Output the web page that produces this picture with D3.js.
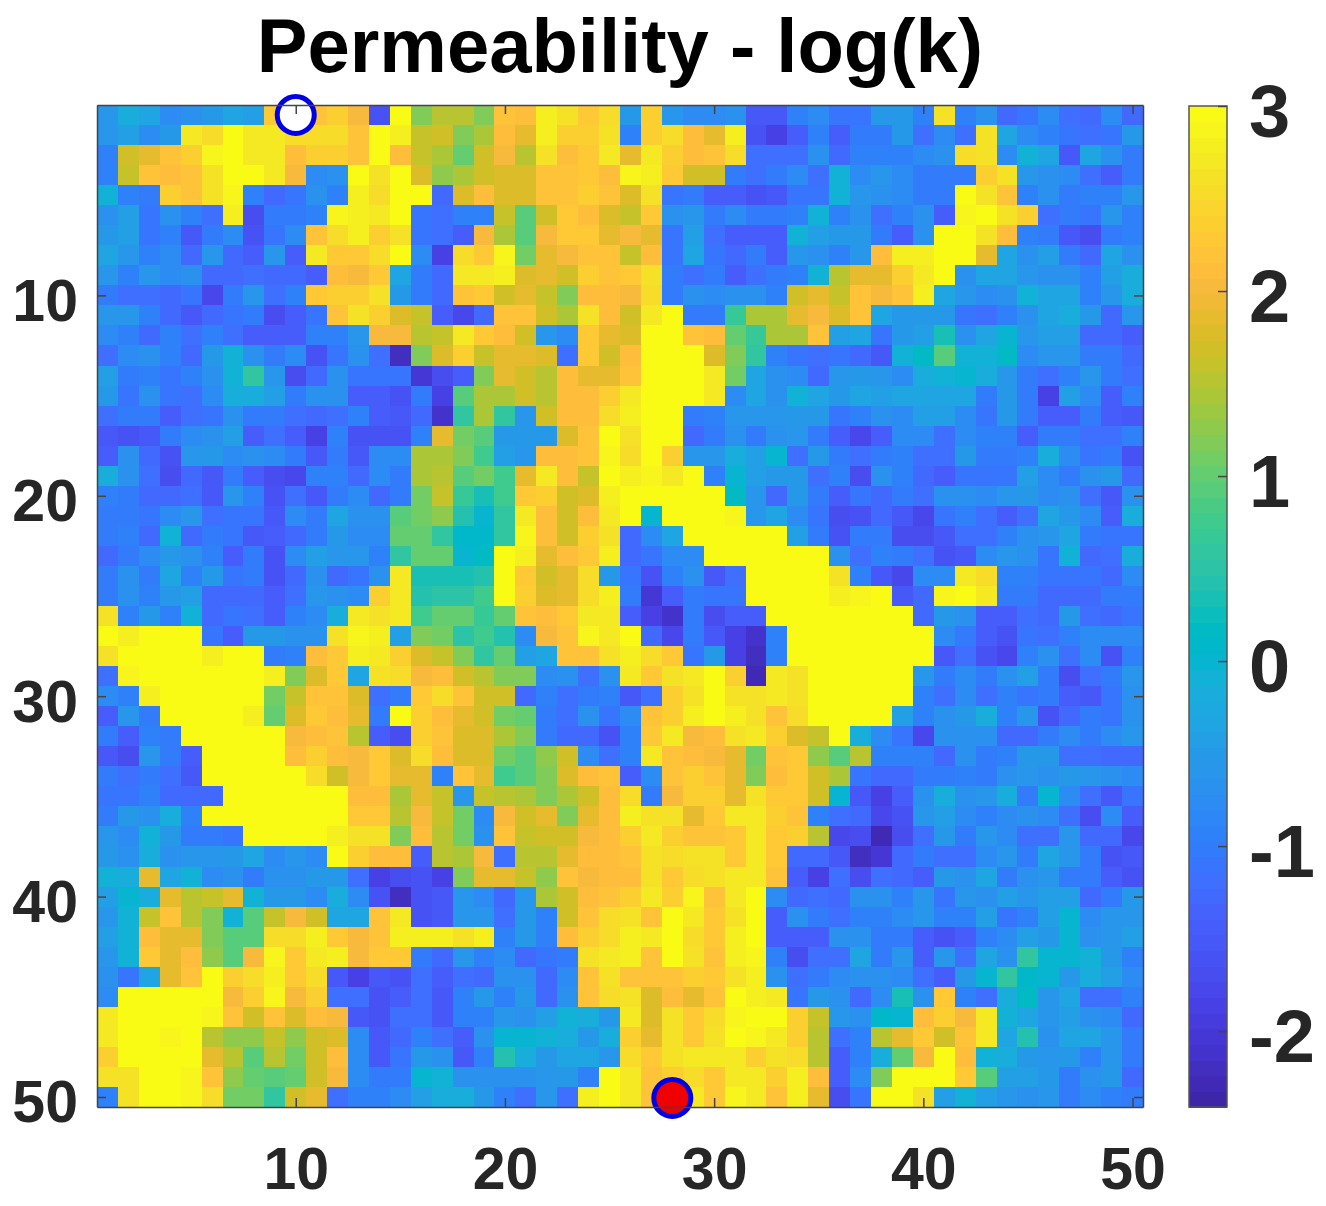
<!DOCTYPE html>
<html>
<head>
<meta charset="utf-8">
<script src="https://cdn.jsdelivr.net/npm/d3@7"></script>
<style>
  html, body { margin: 0; padding: 0; background: #fff; }
  svg { display: block; }
  text { font-family: "Liberation Sans", Arial, sans-serif; font-weight: bold; }
</style>
</head>
<body>
<svg id="chart" width="1326" height="1206"></svg>
<script>
// log(k) per cell, one array per row
const logK = [
[-0.6,-0.2,-0.3,-0.8,-0.7,-0.5,-0.3,-0.4,2.3,2.4,2.2,2.4,2.0,-1.6,3,1.2,1.5,1.5,1.2,2.2,2.1,2.8,2.6,2.3,2.5, -0.5,2.4,-0.6,-0.8,-0.8,-0.7,-1.5,-1.5,-0.9,-0.8,-1.1,-1.1,-0.5,-0.5,-0.9,2.6,-0.9,-0.7,-1.3,-1.1,-0.8,-1.2,-1.3,-0.8,-1.3],
[-0.6,-0.4,-0.8,-0.5,2.7,2.5,3,2.7,2.7,2.5,2.5,2.5,2.2,3,2.8,1.6,1.7,1.2,1.4,2.1,1.9,2.8,2.4,2.4,2.6, -0.9,2.4,2.5,2.1,1.9,2.8,-1.6,-1.9,-1.4,-0.9,-1.4,-1.0,-1.0,-0.5,-1.2,-0.8,-1.2,2.6,-0.3,-0.8,-0.9,-1.1,-1.2,-1.1,-0.5],
[-0.9,1.7,1.9,2.2,2.4,2.9,3,2.7,2.7,2.1,2.4,2.4,2.2,3,2.1,1.6,1.4,1.0,1.7,2.0,1.5,2.6,2.1,2.3,2.7, 1.9,2.7,2.4,2.1,2.2,2.5,-1.2,-1.2,-1.2,-0.7,-1.3,-0.9,-0.9,-0.9,-0.8,-0.7,2.5,2.6,-0.8,-0.1,-0.3,-1.5,-0.3,-0.7,-1.0],
[-0.9,1.6,2.2,2.1,2.2,2.6,3,3,2.7,2.0,-0.8,-0.7,3,2.6,3,1.8,1.3,1.4,1.7,1.8,1.8,2.2,2.2,2.3,2.1, 2.9,2.8,2.3,1.7,1.7,-1.0,-1.2,-1.0,-0.8,-1.2,-0.1,-0.8,-0.6,-0.8,-1.0,-1.0,-1.0,2.4,2.6,-0.6,-0.7,-0.8,-1.2,-1.4,-1.0],
[-0.1,-0.9,-1.0,2.4,2.2,2.6,2.9,-0.9,-1.3,-1.1,-0.7,-0.9,2.8,2.5,3,3,-1.3,1.8,2.1,1.8,1.8,2.2,2.2,2.4,2.2, 1.8,2.6,-1.1,-1.0,-1.4,-1.4,-1.6,-1.5,-1.1,-1.1,-0.1,-0.6,-0.7,-0.8,-1.0,-1.0,3,2.6,2.2,-0.9,-0.7,-1.0,-0.9,-0.9,-0.6],
[-0.7,-0.4,-1.1,-0.7,-0.9,-1.2,2.8,-1.7,-1.0,-1.0,-0.9,2.9,2.8,2.7,3,-1.1,-1.2,-0.9,-0.9,1.6,0.9,1.7,2.3,2.1,1.8, 1.6,2.3,-0.7,-0.6,-1.0,-0.8,-1.0,-1.0,-0.9,-0.1,-0.9,-0.7,-1.2,-0.9,-0.7,-1.4,2.9,3,2.6,2.4,-1.2,-1.0,-1.1,-0.6,-0.9],
[-0.5,-0.4,-1.1,-0.9,-1.5,-1.0,-0.8,-1.6,-1.1,-0.8,2.2,2.5,2.8,2.4,2.6,-1.1,-1.2,-1.4,2.0,1.4,0.9,2.0,2.3,2.3,1.9, 2.0,1.9,-1.1,-0.4,-1.2,-1.4,-1.4,-1.4,-0.1,-0.4,-0.5,-0.5,-1.0,-1.4,-0.7,3,3,2.6,2.1,-0.9,-1.0,-1.5,-1.7,-1.0,-0.9],
[-0.3,-0.6,-0.9,-0.8,-1.3,-0.6,-1.3,-1.4,-0.6,-1.4,2.7,2.3,2.3,2.5,3,-0.8,-1.9,2.5,2.3,2.9,1.1,1.9,2.0,2.2,2.2, 1.6,2.1,-1.1,-0.3,-1.1,-1.3,-1.0,-1.4,-0.6,-0.7,-0.9,-0.6,2.1,2.8,2.8,3,3,1.9,-0.3,-0.7,-0.4,-1.0,-1.3,-0.3,-0.7],
[-0.6,-0.9,-0.6,-0.8,-0.7,-1.3,-1.3,-1.2,-1.3,-1.3,-1.4,2.1,2.0,2.3,-0.3,-1.0,-1.3,2.7,2.7,2.8,1.8,1.9,1.7,2.4,2.2, 2.3,2.6,-1.0,-1.2,-1.0,-1.4,-1.2,-1.0,-0.9,-0.1,1.5,1.9,1.9,2.4,2.7,3,-0.7,-0.3,-0.3,-0.6,-0.7,-0.7,-0.9,-0.4,-0.2],
[-1.0,-1.2,-1.2,-1.3,-1.1,-1.8,-1.0,-0.6,-1.2,-0.9,2.3,2.4,2.4,2.6,-0.5,-1.0,-1.3,2.2,2.3,1.7,1.9,1.6,1.2,2.1,2.1, 2.0,2.5,-1.0,-0.7,-0.8,-0.7,-0.7,-0.9,1.7,1.9,1.6,2.2,2.0,2.2,2.8,-0.3,-0.6,-0.8,-0.7,-0.1,-0.3,-0.3,-0.9,-0.6,-0.2],
[-0.6,-0.6,-0.9,-1.3,-1.5,-1.3,-1.1,-1.0,-1.7,-1.4,-1.1,2.2,2.6,2.4,1.8,1.6,-1.4,-1.8,-1.3,2.2,2.2,1.7,1.4,2.6,2.1, 1.7,2.7,3,-1.0,-1.0,0.7,1.4,1.4,1.9,2.0,1.8,2.2,-0.3,-0.5,-0.5,-0.5,-1.1,-1.2,-0.9,-0.7,-0.3,-0.2,-0.5,-1.3,-0.6],
[-0.8,-0.9,-1.3,-0.9,-1.2,-0.9,-1.2,-1.4,-1.4,-1.4,-0.9,-0.9,-0.6,2.0,2.0,1.5,1.6,2.7,2.3,2.1,1.7,-0.6,-0.8,2.3,1.9, 1.8,3,3,2.2,2.1,1.0,0.7,1.4,1.4,2.2,-0.4,-0.3,-1.1,-0.5,-0.4,0.3,-0.7,-0.3,0.0,-0.6,-0.4,-0.4,-1.3,-1.3,-1.4],
[-1.2,-0.8,-0.7,-0.9,-1.3,-0.5,-0.1,-0.7,-1.0,-0.8,-1.6,-1.1,-0.7,-1.2,-2.2,1.2,1.8,2.4,1.6,1.9,1.9,1.8,-1.2,2.3,1.7, 2.1,3,3,3,1.8,1.2,0.6,-0.9,-1.1,-1.2,-1.1,-1.3,-1.5,-0.1,0.2,0.9,-0.1,-0.1,0.2,-0.8,-0.6,-0.6,-1.0,-1.0,-1.3],
[-0.4,-1.0,-0.9,-1.1,-0.9,-0.7,-0.1,0.6,-0.6,-1.7,-1.3,-0.7,-1.1,-1.1,-1.1,-2.0,-1.7,-1.4,1.2,1.9,1.7,1.5,2.1,1.9,1.9, 2.2,3,3,3,2.7,1.1,-0.3,-0.7,-0.8,-1.3,-0.6,-0.5,-0.6,-0.8,-0.2,-0.1,0.0,-0.2,-0.6,-1.0,-1.2,-0.9,-0.6,-1.0,-1.2],
[-0.5,-1.1,-0.7,-1.1,-1.2,-0.8,-0.2,-0.2,-0.4,-1.0,-0.7,-0.7,-1.4,-1.4,-1.6,-1.0,-1.9,0.9,1.4,1.4,1.7,1.5,2.1,2.1,2.4, 2.7,3,3,3,2.7,-0.8,-0.3,-0.7,-0.1,-0.3,-0.5,-0.3,-0.4,-0.3,-0.3,-0.3,-0.3,-1.0,-0.5,-1.0,-1.9,-0.4,-0.8,-1.4,-0.9],
[-1.2,-1.0,-1.0,-1.4,-1.2,-1.1,-0.7,-1.0,-1.0,-1.2,-1.3,-1.2,-0.9,-1.4,-1.5,-1.3,-2.1,0.6,1.4,0.6,-0.6,1.7,2.1,2.1,2.5, 2.8,3,3,-1.0,-0.9,-0.6,-0.6,-0.6,-0.5,-0.5,-1.1,-0.9,-0.7,-0.8,-0.4,-0.4,-0.8,-1.1,-0.5,-1.0,-1.4,-1.4,-1.0,-1.4,-1.5],
[-1.5,-1.6,-1.5,-1.0,-0.8,-0.7,-0.4,-1.4,-1.2,-1.4,-1.9,-0.9,-1.6,-1.6,-1.6,-0.9,1.9,1.1,0.9,-0.5,-0.5,-0.5,1.8,2.2,3, 2.6,3,3,-1.3,-1.0,-0.7,-1.0,-0.7,-0.6,-1.0,-1.4,-1.8,-1.4,-0.8,-0.8,-1.2,-0.8,-0.9,-0.9,-1.4,-1.0,-1.0,-1.2,-1.2,-0.9],
[-1.4,-0.7,-1.3,-1.6,-0.6,-0.5,-0.8,-0.7,-0.8,-1.0,-1.5,-1.0,-1.5,-0.8,-0.8,1.4,1.4,1.2,0.8,-0.4,-0.6,2.1,2.1,2.2,2.9, 2.5,3,2.4,-0.6,-0.6,-0.2,-0.4,0.0,-1.2,-0.5,-1.0,-1.2,-1.0,-0.9,-1.2,-1.2,-0.5,-1.0,-1.0,-0.9,-0.2,-0.8,-1.1,-1.0,-1.6],
[-0.2,-0.7,-1.2,-1.7,-1.3,-1.5,-1.0,-1.4,-1.7,-1.8,-0.9,-0.9,-1.3,-0.8,-1.0,1.4,1.5,0.9,1.1,0.8,1.9,2.7,2.1,1.6,3, 2.8,2.9,2.7,3,-0.9,0.0,-0.4,-0.5,-0.5,-1.2,-0.9,-1.7,-0.7,-0.9,-1.3,-1.4,-1.1,-1.1,-1.1,-0.4,-0.8,-1.0,-0.7,-0.5,-1.3],
[-0.9,-1.0,-1.3,-1.3,-1.2,-1.5,-0.6,-0.9,-1.6,-1.2,-1.5,-1.0,-0.8,-1.3,-1.0,1.1,1.6,0.7,0.3,0.8,2.3,2.4,1.7,1.8,2.8, 3,3,3,3,3,0.2,-0.6,-1.3,-0.5,-1.0,-1.4,-1.1,-1.3,-1.0,-1.2,-0.7,-0.7,-0.8,-0.6,-0.5,-0.8,-0.7,-1.2,-1.5,-0.7],
[-1.0,-1.0,-1.1,-0.8,-0.6,-1.2,-1.1,-1.1,-1.5,-0.8,-1.0,-0.3,-0.7,-0.7,0.9,1.1,1.3,0.4,0.0,0.6,2.7,2.1,1.7,2.1,2.7, 3,0.0,3,3,3,2.9,-0.6,-0.3,-0.8,-1.1,-1.7,-1.6,-1.3,-1.5,-1.8,-1.1,-0.9,-1.2,-1.4,-1.2,-0.3,-0.5,-0.8,-1.4,-0.2],
[-1.0,-0.9,-1.3,-0.1,-1.3,-1.0,-1.1,-1.5,-1.4,-1.3,-1.0,-0.5,-0.8,-0.8,1.0,1.0,0.6,0.1,0.1,0.6,2.9,2.1,1.7,2.4,2.6, -1.3,-0.8,-0.3,3,3,3,3,3,-0.4,-1.0,-1.6,-1.0,-1.0,-1.7,-1.7,-1.5,-1.2,-1.2,-0.9,-0.7,-0.6,-0.3,-1.0,-1.1,-1.1],
[-1.3,-1.0,-0.8,-0.5,-0.7,-0.9,-1.4,-1.0,-1.6,-0.8,-0.4,-0.6,-0.6,-0.9,0.6,1.0,1.0,0.0,0.2,3,2.8,1.9,2.1,2.3,2.8, -1.3,-1.1,-0.8,-0.8,3,3,3,3,3,3,-0.7,-1.2,-0.9,-1.0,-1.2,-1.6,-1.5,-0.8,-0.6,-0.7,-1.1,-0.1,-1.3,-1.2,-0.2],
[-1.0,-0.7,-1.0,-0.3,-0.9,-0.5,-1.1,-1.0,-1.6,-1.3,-0.7,-1.3,-1.1,-0.7,2.7,0.3,0.3,0.3,0.4,3,2.3,1.7,1.9,2.5,-0.5, -1.1,-1.6,-0.9,-0.7,-1.5,-1.2,3,3,3,3,2.6,-0.9,-1.5,-1.8,-0.8,-0.8,2.7,2.5,-0.9,-0.9,-1.1,-1.1,-1.1,-1.3,-0.8],
[-1.0,-0.7,-0.9,-0.5,-0.4,-1.3,-1.3,-1.3,-1.4,-1.2,-0.6,-0.7,-0.8,2.4,2.7,0.4,0.5,0.5,0.8,3,2.4,1.8,1.9,2.5,2.8, -1.0,-2.0,-1.4,-1.0,-1.1,-1.1,3,3,3,3,2.8,2.9,3,-1.5,-1.3,2.9,3,2.7,-1.0,-1.0,-1.3,-1.3,-1.3,-1.0,-1.0],
[2.6,-0.9,-0.5,-0.9,-0.1,-1.3,-1.1,-1.2,-1.4,-0.9,-0.8,-0.2,2.7,2.6,2.7,0.8,1.0,1.0,0.7,1.0,2.2,2.1,2.3,2.7,2.7, -1.4,-1.9,-2.1,-1.0,-1.7,-1.4,-1.4,3,3,3,3,3,3,3,-1.3,-0.5,-0.7,-1.4,-1.4,-1.2,-1.3,-0.5,-1.2,-1.3,-1.1],
[3,2.8,3,3,3,-1.1,-1.4,-0.5,-0.5,-0.7,-0.7,2.6,2.9,2.8,-0.4,1.2,1.1,0.5,0.8,0.4,-0.8,2.0,2.2,2.9,2.7, 3,-1.3,-1.8,-1.0,-1.5,-1.9,-2.1,-0.9,3,3,3,3,3,3,3,-0.8,-1.0,-1.4,-1.6,-1.1,-1.2,-0.9,-0.8,-0.8,-0.8],
[2.6,3,3,3,3,2.8,3,3,-1.0,-0.9,2.1,2.3,2.8,2.7,2.4,1.8,1.6,1.2,0.6,1.0,-0.4,-0.3,2.2,2.2,2.6, 2.8,2.5,2.3,-1.1,-0.5,-1.9,-2.2,-0.9,3,3,3,3,3,3,3,-1.5,-1.2,-1.6,-1.8,-0.9,-0.7,-1.2,-0.8,-1.6,-0.9],
[-1.2,2.9,3,3,3,3,3,3,2.8,1.2,1.8,2.3,-0.3,2.6,2.5,2.0,2.1,1.7,1.5,1.2,1.2,-0.8,-0.7,-1.2,-0.7, 2.7,2.3,2.6,2.7,3,2.4,-2.3,2.7,2.6,3,3,3,3,3,-0.6,-1.0,-0.8,-1.0,-0.7,-0.4,-1.0,-1.7,-1.2,-1.0,-0.6],
[-0.8,-0.9,2.8,3,3,3,3,3,1.1,1.6,2.2,2.2,1.8,-1.2,-1.0,2.3,2.5,2.2,1.7,1.7,-1.3,-0.9,-1.2,-1.0,-0.9, -1.5,-1.2,2.4,2.6,3,2.6,2.6,2.7,2.6,3,3,3,3,3,-0.9,-1.2,-0.8,-1.2,-0.9,-1.1,-1.0,-1.4,-1.5,-1.1,-0.7],
[-1.4,-0.6,-1.0,3,3,3,3,2.8,1.0,1.8,2.3,2.1,1.9,-1.0,3,2.4,2.1,1.9,1.7,1.1,1.0,-1.0,-1.2,-0.7,-1.1, -0.8,2.2,2.4,2.8,3,2.8,2.6,2.2,2.5,3,3,3,3,-0.4,-0.9,-0.7,-0.5,-0.2,-0.9,-0.6,-1.6,-1.3,-1.0,-1.1,-0.7],
[-1.0,-1.4,-0.9,-1.0,3,3,3,3,3,2.0,2.1,2.2,1.5,-1.4,-1.7,2.4,2.2,1.8,1.8,1.4,1.2,-1.0,-1.3,-1.3,-1.6, -0.9,2.3,2.7,2.0,2.1,2.6,2.7,2.4,1.8,1.6,3,-0.2,-0.8,-1.1,-1.8,-0.7,-0.7,-0.7,-1.3,-1.3,-1.0,-0.8,-1.0,-0.8,-0.6],
[-1.5,-1.7,-0.6,-1.0,-1.4,3,3,3,3,2.1,2.4,2.1,2.0,2.3,1.8,2.5,2.1,1.8,1.8,1.1,0.9,1.3,1.7,-0.8,-1.2, -0.9,2.7,2.2,2.1,2.0,1.9,1.1,2.2,2.3,1.3,0.9,1.5,-0.9,-0.9,-0.9,-1.3,-0.7,-1.0,-0.9,-0.5,-0.5,-1.2,-1.2,-1.3,-1.3],
[-1.0,-1.2,-1.0,-1.2,-1.5,3,3,3,3,3,2.5,1.7,2.0,2.3,1.9,1.9,-0.9,2.2,1.9,0.8,0.9,1.2,1.8,2.1,2.2, -1.4,-0.8,2.2,2.4,2.2,1.9,1.2,2.1,2.3,1.7,1.4,-1.1,-1.3,-1.3,-1.0,-1.0,-0.9,-1.0,-0.7,-0.6,-0.7,-0.5,-0.6,-0.7,-0.8],
[-1.1,-1.1,-0.9,-1.3,-1.3,-1.3,3,3,3,3,3,3,2.1,2.1,1.4,1.9,1.6,-0.6,1.6,1.5,1.4,1.2,1.4,1.7,2.1, 2.5,-1.0,2.0,2.4,2.4,1.9,2.6,2.3,2.3,1.7,0.0,-1.5,-1.9,-1.4,-0.7,-0.2,-0.7,-0.6,-0.2,-1.0,0.0,-0.8,-1.2,-1.5,-1.1],
[-1.0,-0.5,-0.7,-0.2,-0.9,3,3,3,3,3,3,3,2.3,2.3,1.5,2.0,1.6,1.1,-0.8,2.0,1.7,1.9,1.2,1.9,2.1, 2.8,2.6,2.6,1.9,2.3,2.7,2.7,2.4,2.2,-0.9,-1.2,-1.3,-1.8,-1.6,-0.6,-0.4,-0.8,-0.9,-0.8,-0.7,-0.8,-1.2,-1.7,-0.8,-1.4],
[-0.6,-0.8,-0.1,-0.5,-1.0,-1.0,-1.1,3,3,3,3,2.8,2.6,2.6,1.2,2.1,1.5,1.1,-0.7,2.2,1.6,1.7,1.7,2.0,2.1, 2.4,2.7,2.4,2.2,2.2,2.3,2.7,2.3,2.4,1.5,-1.8,-1.7,-2.3,-1.7,-1.2,-0.5,-1.0,-0.6,-0.8,-1.2,-1.2,-0.6,-1.3,-1.3,-1.8],
[-0.5,-0.7,-0.2,-0.7,-0.6,-0.6,-0.5,-0.3,-0.8,-0.6,-0.8,3,2.4,2.1,2.1,-1.4,1.5,1.4,2.0,-1.2,1.5,1.5,1.9,2.1,2.1, 2.2,2.6,2.5,2.6,2.6,2.3,2.7,2.3,-1.3,-1.3,-1.5,-2.2,-2.0,-1.3,-1.0,-1.2,-1.2,-0.8,-0.6,-1.0,-0.3,-0.6,-1.0,-1.6,-1.5],
[-0.1,-0.2,1.9,-0.3,-0.1,-0.8,-0.7,-1.0,-0.7,-0.7,-0.5,-0.5,-1.2,-1.9,-1.7,-1.6,-1.9,1.2,1.9,1.9,1.6,1.3,2.2,2.0,2.1, 2.1,2.6,2.3,2.5,2.6,2.7,2.7,2.2,-1.4,-1.9,-1.2,-1.7,-1.2,-1.3,-1.4,-0.5,-0.7,-0.3,-1.0,-0.7,-0.6,-1.0,-1.0,-1.4,-1.6],
[-0.4,0.0,-0.2,1.9,1.5,1.6,1.9,-0.1,-0.5,-0.5,-0.8,-0.2,-0.8,-1.6,-2.2,-1.6,-1.5,-0.6,-0.8,-1.3,-0.6,1.4,1.7,2.1,2.2, 2.4,2.7,2.4,2.9,2.2,2.7,3,-0.8,-1.3,-1.2,-1.3,-0.7,-0.7,-0.9,-0.6,-1.1,-0.6,-0.7,-0.4,-0.6,-0.4,-0.4,-1.3,-1.0,-0.5],
[-0.6,-0.1,1.6,2.2,1.5,1.2,-0.1,0.9,1.6,2.0,1.7,-0.3,-0.3,2.2,2.7,-1.6,-1.5,-0.6,-0.6,-1.2,-0.5,-0.9,1.7,2.2,2.5, 2.6,2.2,3,2.7,2.3,2.6,3,-1.4,-0.7,-1.0,-1.2,-0.9,-0.9,-0.8,-0.6,-0.9,-0.9,-0.4,-1.1,-0.9,-0.4,0.0,-0.8,-0.6,-0.6],
[-0.4,-0.1,2.1,1.9,1.9,1.2,0.9,0.9,2.5,2.5,2.8,2.3,2.0,2.2,2.8,2.8,2.8,2.6,2.8,-0.9,-0.5,-0.9,2.1,2.4,2.5, 2.8,2.7,3,2.5,2.3,2.8,3,-1.4,-1.4,-1.4,-0.7,-0.7,-1.0,-1.0,-1.4,-1.6,-1.4,-0.9,-0.8,-0.4,-0.5,0.0,-0.7,-0.6,-0.4],
[-0.6,-0.1,2.3,1.9,2.1,1.3,0.9,2.0,2.9,2.3,2.7,2.8,2.0,2.3,2.3,-1.0,-1.3,-0.6,-0.9,-0.8,-1.3,-1.1,-1.0,2.6,2.7, 2.8,2.2,3,2.6,2.2,2.8,2.9,-0.9,-1.7,-1.2,-1.2,-0.3,-1.0,-0.6,-1.4,-0.6,-1.2,-0.3,-0.7,0.6,0.0,0.0,-0.1,-0.5,-0.9],
[-0.7,-1.1,-0.3,1.9,2.2,3,2.4,2.5,2.8,2.3,2.5,-1.5,-1.9,-1.5,-1.6,-1.2,-1.4,-1.2,-1.3,-0.7,-0.7,-1.3,-0.8,2.2,2.6, 2.2,2.2,2.2,2.4,2.3,2.6,2.8,-0.7,-1.2,-1.0,-0.8,-0.7,-0.7,-0.8,-1.2,-1.4,-0.5,0.0,0.6,0.1,0.0,-0.5,-0.2,-0.4,-0.8],
[-0.8,3,3,3,3,3,2.0,2.4,2.9,2.0,2.4,-1.2,-1.2,-1.6,-1.4,-1.2,-1.5,-0.9,-0.5,-0.9,-0.5,-1.3,-0.7,2.2,2.5, 2.6,1.8,2.1,1.9,2.2,3,2.8,2.7,-1.1,-0.5,-0.7,-1.3,-0.8,0.3,-0.7,2.3,-0.9,-1.2,-0.2,0.2,-0.6,-0.3,-1.2,-1.2,-0.9],
[2.7,3,3,3,3,2.9,2.2,1.7,2.2,1.8,2.1,2.0,-1.5,-1.6,-1.2,-1.2,-1.5,-0.9,-0.9,-0.6,-0.7,-0.4,-0.1,-0.2,-0.5, 2.7,1.8,2.6,2.3,2.5,2.9,3,3,2.4,1.6,-0.6,-0.7,0.1,0.0,2.1,2.4,2.0,2.7,-0.1,-0.3,-0.6,-0.4,-0.7,-0.8,-1.3],
[2.7,3,3,2.9,3,1.5,1.3,1.3,1.6,1.3,1.7,1.8,-0.8,-1.5,-1.3,-0.9,-1.2,-1.4,-0.7,0.0,0.0,-0.1,-0.2,-0.5,-0.2, 2.4,1.9,2.6,2.3,2.6,3,2.9,2.7,2.4,1.5,-1.2,-0.9,1.5,1.9,2.3,1.7,2.2,2.7,-0.3,0.4,-0.7,-0.3,-0.3,-0.6,-1.0],
[2.4,3,3,3,3,1.9,1.5,0.9,1.5,1.1,1.7,2.1,-0.8,-1.5,-1.1,-0.5,-0.7,-1.5,-0.9,0.4,-0.2,-0.5,-0.3,-0.3,-0.6, 2.5,2.3,2.6,2.7,2.7,2.7,2.4,2.6,2.5,1.5,-1.4,-0.9,-0.2,1.0,2.0,3,2.1,-0.1,-0.2,-0.5,-0.6,-0.5,-0.9,-0.6,-1.0],
[2.6,2.6,3,3,2.9,2.2,1.3,1.0,0.9,1.0,1.7,2.0,-0.8,-1.0,-1.0,0.0,-0.1,-0.7,-0.7,-0.7,-0.7,-0.6,-0.5,-0.9,3, 2.7,2.2,2.4,2.5,2.3,2.7,2.7,2.4,2.8,2.1,-1.4,-0.8,1.2,3,3,3,2.3,0.9,-0.4,-0.4,-0.5,-1.0,-0.7,-0.5,-1.3],
[-0.9,2.6,3,3,2.9,2.5,1.1,1.1,0.6,1.7,1.9,-1.2,-0.9,-0.9,-0.8,-0.4,-0.2,-0.2,-0.5,-0.9,-1.2,-0.6,-1.2,2.8,3, 2.7,2.2,2.4,2.7,2.3,2.9,2.7,2.2,2.8,1.9,-1.7,-1.1,3,3,2.6,-0.4,-0.1,-0.4,-0.6,-0.7,-0.6,-1.0,-0.8,-0.9,-1.0]
];

const axisTicks = [10, 20, 30, 40, 50];
const colorTicks = [-2, -1, 0, 1, 2, 3];
const colorRange = [-2.41, 3];

// the two wells, [column, row]
const injector = [10, 1];
const producer = [28, 50];

const parula = ["#3e26a8","#4029b4","#422ebf","#4332cb","#4537d5","#463cde","#4741e5","#4747eb","#484df0","#4752f4","#4758f8","#465dfb","#4563fc","#4269fe","#3e6fff","#3875fe","#327cfc","#2f81fa","#2d87f7","#2d8cf3","#2b91ef","#2796eb","#2599e7","#239fe5","#20a5e3","#1ca9df","#18adda","#12b1d6","#08b5d0","#01b8ca","#02bac3","#0bbdbc","#18bfb5","#24c1ae","#2cc3a7","#31c69f","#37c897","#3fca8e","#4acb84","#57cc7a","#63cd6f","#72cd64","#81cc59","#8fca4d","#9dc942","#abc738","#b9c431","#c5c22a","#d1bf27","#dcbd29","#e6bb2d","#f0ba36","#f8ba3d","#febe3c","#fec338","#fec934","#fccf30","#fad52d","#f7dc2a","#f5e227","#f5e924","#f5ef20","#f7f51b","#f9fb15"];

const svg = d3.select("#chart");

const x = d3.scaleLinear().domain([0.5, 50.5]).range([97, 1143]);
const y = d3.scaleLinear().domain([0.5, 50.5]).range([105, 1107]);
const color = d3.scaleQuantize().domain(colorRange).range(parula);

// cells
logK.forEach((row, r) => {
    svg.append("g")
        .attr("shape-rendering", "crispEdges")
        .selectAll("rect")
        .data(row)
        .join("rect")
        .attr("x", (d, c) => x(c + 0.5))
        .attr("y", y(r + 0.5))
        .attr("width", (d, c) => x(c + 1.5) - x(c + 0.5))
        .attr("height", y(r + 1.5) - y(r + 0.5))
        .attr("fill", d => color(d));
});

// wells
svg.append("circle")
    .attr("cx", x(injector[0]))
    .attr("cy", y(injector[1]))
    .attr("r", 18.5)
    .attr("fill", "#fff")
    .attr("stroke", "#0000e6")
    .attr("stroke-width", 5);

svg.append("circle")
    .attr("cx", x(producer[0]))
    .attr("cy", y(producer[1]) + 1)
    .attr("r", 18.5)
    .attr("fill", "#f00000")
    .attr("stroke", "#0000e6")
    .attr("stroke-width", 5);

// box axes, ticks point inward like the original
function styleAxis(g, size) {
    g.selectAll("path, line").attr("stroke", "#444").attr("stroke-width", 1.5);
    g.selectAll("text").attr("fill", "#262626").style("font-size", size + "px").style("font-weight", "bold");
}

svg.append("g").attr("transform", "translate(0,1107)")
    .call(d3.axisBottom(x).tickValues(axisTicks).tickSize(-9).tickSizeOuter(0).tickPadding(40))
    .call(styleAxis, 59);

svg.append("g").attr("transform", "translate(97,0)")
    .call(d3.axisLeft(y).tickValues(axisTicks).tickSize(-9).tickSizeOuter(0).tickPadding(19))
    .call(styleAxis, 59)
    .call(g => g.selectAll("text").attr("dy", "25px"));

svg.append("g").attr("transform", "translate(0,105)")
    .call(d3.axisTop(x).tickValues(axisTicks).tickSize(-9).tickSizeOuter(0).tickFormat(""))
    .call(styleAxis, 59);

svg.append("g").attr("transform", "translate(1143,0)")
    .call(d3.axisRight(y).tickValues(axisTicks).tickSize(-9).tickSizeOuter(0).tickFormat(""))
    .call(styleAxis, 59);

// title
svg.append("text")
    .attr("x", 620)
    .attr("y", 72)
    .attr("text-anchor", "middle")
    .attr("fill", "#000")
    .style("font-size", "76px")
    .text("Permeability - log(k)");

// colorbar
const cy = d3.scaleLinear().domain(colorRange).range([1107, 106]);
const step = (colorRange[1] - colorRange[0]) / parula.length;

svg.append("g")
    .attr("shape-rendering", "crispEdges")
    .selectAll("rect")
    .data(parula)
    .join("rect")
    .attr("x", 1189)
    .attr("y", (d, i) => cy(colorRange[0] + (i + 1) * step))
    .attr("width", 38)
    .attr("height", (d, i) => cy(colorRange[0] + i * step) - cy(colorRange[0] + (i + 1) * step) + 0.5)
    .attr("fill", d => d);

svg.append("rect")
    .attr("x", 1189)
    .attr("y", 106)
    .attr("width", 38)
    .attr("height", 1001)
    .attr("fill", "none")
    .attr("stroke", "#555")
    .attr("stroke-width", 1.5);

svg.append("g").attr("transform", "translate(1227,0)")
    .call(d3.axisRight(cy).tickValues(colorTicks).tickSize(-9).tickSizeOuter(0).tickPadding(22).tickFormat(d => String(d)))
    .call(g => g.select(".domain").remove())
    .call(styleAxis, 74)
    .call(g => g.selectAll("text").attr("dy", "30px"));
</script>
</body>
</html>
